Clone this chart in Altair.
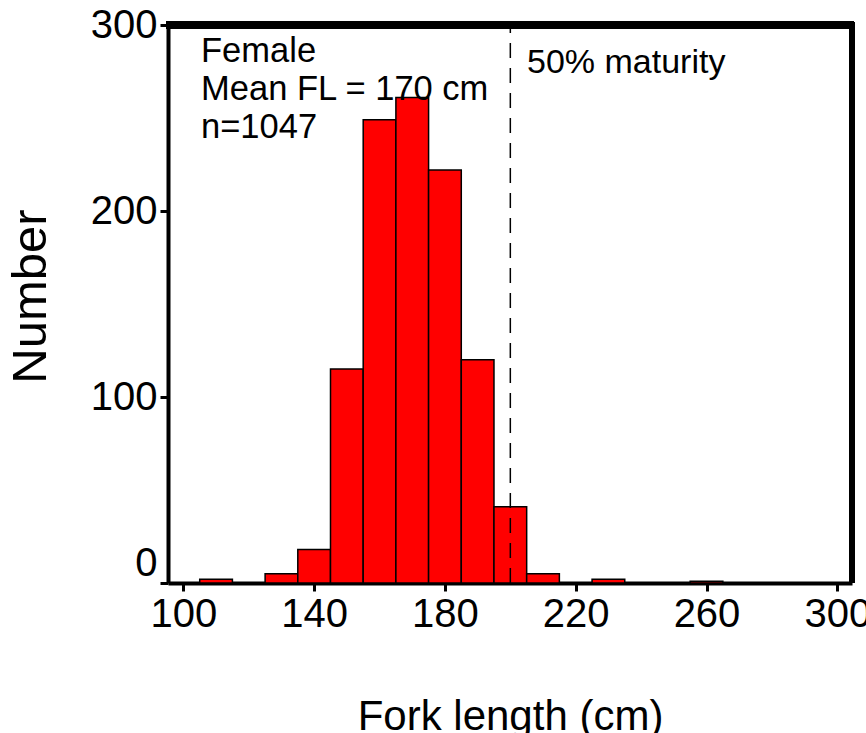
import altair as alt
import pandas as pd

# Histogram bins (cm) and counts
bin_start = [105, 115, 125, 135, 145, 155, 165, 175, 185, 195, 205, 215, 225, 235, 245, 255]
bin_width = 10
counts = [2, 0, 5, 18, 115, 249, 261, 222, 120, 41, 5, 0, 2, 0, 0, 1]

x_ticks = [100, 140, 180, 220, 260, 300]
y_ticks = [0, 100, 200, 300]

maturity_fl = 200
notes = ["Female", "Mean FL = 170 cm", "n=1047"]
note_x = [105.4, 105.4, 105.4]
note_y = [280, 259.5, 239.5]
maturity_label = "50% maturity"

df = pd.DataFrame({
    "start": bin_start,
    "end": [s + bin_width for s in bin_start],
    "count": counts,
})

W, H = 684, 558
FONT = "Liberation Sans"

xscale = alt.Scale(domain=[95.3, 304.5], nice=False, zero=False)
yscale = alt.Scale(domain=[0, 300], nice=False)

bars = alt.Chart(df).mark_rect(
    color="#FF0000", stroke="black", strokeWidth=1.5
).encode(
    x=alt.X("start:Q", scale=xscale,
            axis=alt.Axis(values=x_ticks, title="Fork length (cm)", grid=False,
                          domainColor="black", domainWidth=4,
                          tickColor="black", tickWidth=3, tickSize=8,
                          labelFont=FONT, labelFontSize=40, labelColor="black",
                          labelPadding=3, labelFlush=False, labelOverlap=False,
                          titleFont=FONT, titleFontSize=42, titleFontWeight="normal",
                          titleColor="black", titleBaseline="alphabetic",
                          titleY=146)),
    x2="end:Q",
    y=alt.Y("count:Q", scale=yscale,
            axis=alt.Axis(values=y_ticks, title="Number", grid=False,
                          domainColor="black", domainWidth=4,
                          tickColor="black", tickWidth=3, tickSize=8,
                          labelFont=FONT, labelFontSize=40, labelColor="black",
                          labelPadding=3, labelFlush=False, labelOverlap=False,
                          labelBaseline={"condition": {"test": "datum.value == 0", "value": "bottom"},
                                         "value": "middle"},
                          titleFont=FONT, titleFontSize=49, titleFontWeight="normal",
                          titleColor="black", titleBaseline="alphabetic",
                          titleAngle=-90, titleX=-123, titleY=271)),
    y2=alt.datum(0),
)

mat_df = pd.DataFrame({"x": [maturity_fl], "y0": [0], "y1": [300]})
mat_line = alt.Chart(mat_df).mark_rule(
    color="black", strokeWidth=1.5, strokeDash=[15, 10]
).encode(x="x:Q", y="y0:Q", y2="y1:Q")

notes_df = pd.DataFrame({"t": notes, "x": note_x, "y": note_y})
note_text = alt.Chart(notes_df).mark_text(
    align="left", baseline="alphabetic", font=FONT, fontSize=34.5, color="black"
).encode(x="x:Q", y="y:Q", text="t:N")

mat_text_df = pd.DataFrame({"t": [maturity_label], "x": [205.1], "y": [274]})
mat_text = alt.Chart(mat_text_df).mark_text(
    align="left", baseline="alphabetic", font=FONT, fontSize=34, color="black"
).encode(x="x:Q", y="y:Q", text="t:N")

top_frame = alt.Chart(df).mark_rule(color="black", strokeWidth=7).encode(
    x=alt.value(-2), x2=alt.value(W + 2), y=alt.value(0)
)
right_frame = alt.Chart(df).mark_rule(color="black", strokeWidth=5).encode(
    x=alt.value(W), y=alt.value(-3), y2=alt.value(H)
)

chart = alt.layer(bars, mat_line, note_text, mat_text, top_frame, right_frame).properties(
    width=W, height=H,
    autosize=alt.AutoSizeParams(type="none"),
    padding={"left": 168, "top": 25, "right": 14, "bottom": 150},
    background="white",
).configure_view(stroke=None)

chart.save("out.html", embed_options={"renderer": "svg", "actions": False})
